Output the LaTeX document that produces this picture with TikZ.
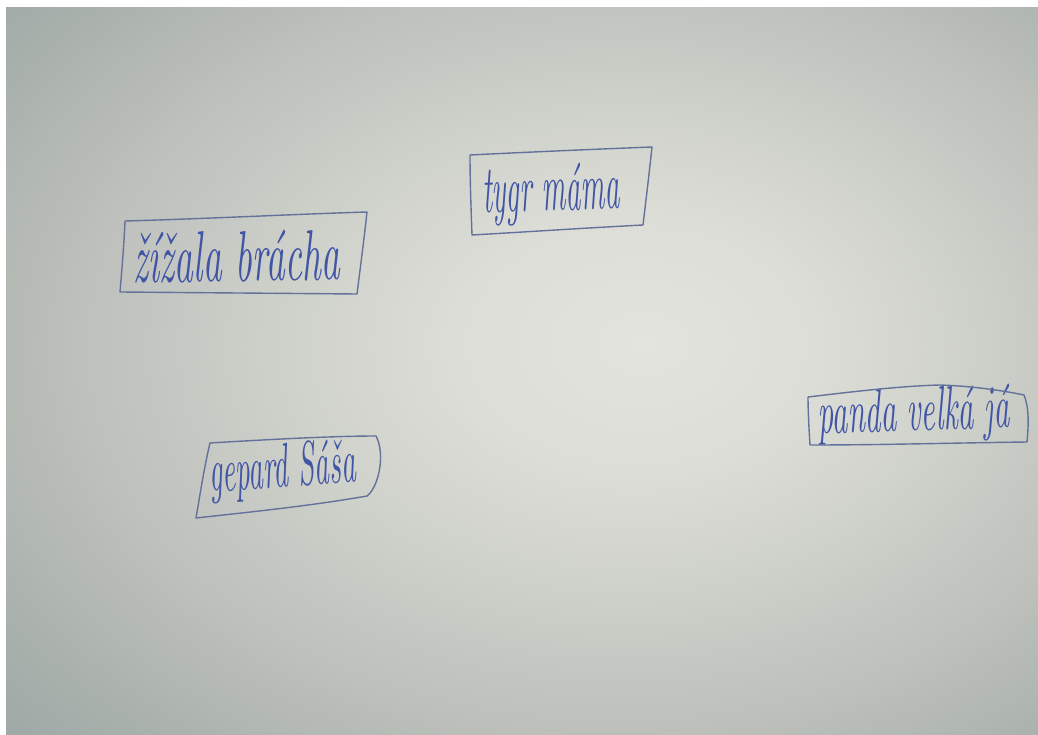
\documentclass[tikz,border=0pt]{standalone}
\usepackage{graphicx}
\begin{document}
\definecolor{ink}{RGB}{65,85,165}
\definecolor{boxink}{RGB}{100,114,155}
\definecolor{pc1}{RGB}{228,228,222}
\definecolor{pc2}{RGB}{220,221,215}
\definecolor{pc3}{RGB}{206,208,202}
\definecolor{pc4}{RGB}{189,192,187}
\definecolor{pc5}{RGB}{160,170,166}
\pgfdeclareradialshading{paper}{\pgfpoint{6bp}{2bp}}{color(0bp)=(pc1); color(9bp)=(pc2); color(17bp)=(pc3); color(26bp)=(pc4); color(38bp)=(pc5); color(100bp)=(pc5)}
\tikzset{
  hand/.style={text=ink, inner sep=0pt, font=\itshape},
  penbox/.style={draw=boxink, line width=1.4pt, line join=round, line cap=round}
}
\begin{tikzpicture}[x=1pt,y=-1pt]
\useasboundingbox (0,0) rectangle (1038,735);
\fill[white] (0,0) rectangle (1038,735);
\shade[shading=paper] (6,8) rectangle (1038,735);

% texts
\node[hand, anchor=base west, rotate=1] (t1) at (133,283) {\resizebox{207pt}{50pt}{žížala brácha}};
\node[hand, anchor=base west, rotate=2] (t2) at (483,213) {\resizebox{137pt}{47pt}{tygr máma}};
\node[hand, anchor=base west, rotate=2] (t3) at (818,434) {\resizebox{192pt}{43pt}{panda velká já}};
\node[hand, anchor=base west, rotate=4] (t4) at (210,492) {\resizebox{147pt}{44pt}{gepard Sáša}};

% boxes
\draw[penbox] (125,221) .. controls (200,219) and (300,214) .. (367,212)
  .. controls (364,240) and (360,270) .. (357,294)
  -- (120,292) .. controls (122,268) and (124,245) .. (125,221) -- cycle;
\draw[penbox] (470,155) .. controls (530,152) and (600,149) .. (652,147)
  .. controls (649,175) and (646,200) .. (643,225)
  .. controls (585,228) and (525,232) .. (472,235)
  .. controls (471,208) and (470,180) .. (470,155) -- cycle;
\draw[penbox] (808,397) .. controls (850,392) and (900,386) .. (940,385)
  .. controls (970,386) and (1000,390) .. (1024,395)
  .. controls (1030,410) and (1028,430) .. (1027,442)
  .. controls (950,443) and (880,445) .. (810,445)
  .. controls (809,430) and (808,410) .. (808,397) -- cycle;
\draw[penbox] (210,443) .. controls (260,440) and (330,436) .. (376,436)
  .. controls (386,455) and (378,488) .. (367,496)
  .. controls (310,506) and (250,512) .. (196,518)
  .. controls (200,495) and (204,468) .. (210,443) -- cycle;
\end{tikzpicture}
\end{document}
